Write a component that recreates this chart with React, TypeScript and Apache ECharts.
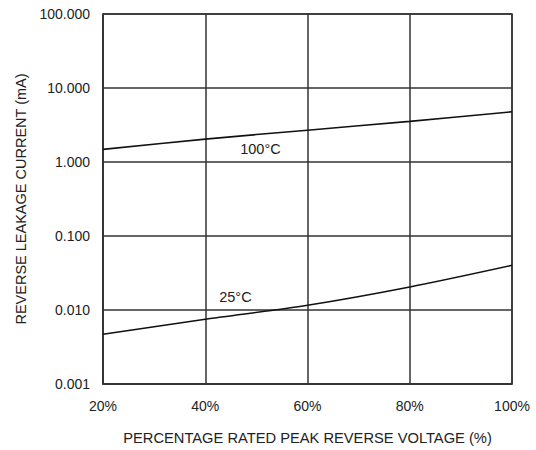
import React, { useEffect, useRef } from "react";
import * as echarts from "echarts";

const voltagePct = [20, 40, 60, 80, 100];
const current100C = [1.48, 2.04, 2.69, 3.54, 4.77];
const current25C = [0.0047, 0.0075, 0.0116, 0.0205, 0.0402];
const label100C = { text: "100°C", x: 50.8, y: 1.49 };
const label25C = { text: "25°C", x: 45.9, y: 0.0151 };

const FONT = "'Liberation Sans', Arial, sans-serif";

export default function App() {
  const ref = useRef<HTMLDivElement>(null);
  useEffect(() => {
    if (!ref.current) return;
    const chart = echarts.init(ref.current, undefined, { renderer: "svg" });
    const lineStyle = { color: "#111", width: 1.6 };
    const mk = (l: { text: string; x: number; y: number }) => ({
      symbol: "circle",
      symbolSize: 0,
      data: [
        {
          coord: [l.x, l.y],
          value: l.text,
          label: {
            show: true,
            formatter: l.text,
            position: "inside",
            color: "#222",
            fontFamily: FONT,
            fontSize: 14.5,
          },
        },
      ],
    });
    chart.setOption({
      animation: false,
      backgroundColor: "#fff",
      grid: { left: 103, right: 24, top: 14, bottom: 60, show: true, borderColor: "#333", borderWidth: 1.5 },
      xAxis: {
        type: "value",
        min: 20,
        max: 100,
        interval: 20,
        name: "PERCENTAGE RATED PEAK REVERSE VOLTAGE (%)",
        nameLocation: "middle",
        nameGap: 46,
        nameTextStyle: { fontFamily: FONT, fontSize: 14.7, color: "#222" },
        axisLine: { show: true, lineStyle: { color: "#333", width: 1.5 } },
        axisTick: { show: false },
        axisLabel: {
          formatter: "{value}%",
          margin: 15,
          fontFamily: FONT,
          fontSize: 14,
          color: "#222",
        },
        splitLine: { show: true, lineStyle: { color: "#333", width: 1.5 } },
      },
      yAxis: {
        type: "log",
        logBase: 10,
        min: 0.001,
        max: 100,
        name: "REVERSE LEAKAGE CURRENT (mA)",
        nameLocation: "middle",
        nameGap: 75,
        nameTextStyle: { fontFamily: FONT, fontSize: 14.5, color: "#222" },
        axisLine: { show: true, lineStyle: { color: "#333", width: 1.5 } },
        axisTick: { show: false },
        minorTick: { show: false },
        axisLabel: {
          formatter: (v: number) => v.toFixed(3),
          margin: 13,
          fontFamily: FONT,
          fontSize: 14,
          color: "#222",
        },
        splitLine: { show: true, lineStyle: { color: "#333", width: 1.5 } },
      },
      series: [
        {
          type: "line",
          name: "100°C",
          data: voltagePct.map((x, i) => [x, current100C[i]]),
          smooth: 0.3,
          showSymbol: false,
          lineStyle,
          markPoint: mk(label100C),
        },
        {
          type: "line",
          name: "25°C",
          data: voltagePct.map((x, i) => [x, current25C[i]]),
          smooth: 0.3,
          showSymbol: false,
          lineStyle,
          markPoint: mk(label25C),
        },
      ],
    });
    return () => chart.dispose();
  }, []);
  return <div ref={ref} style={{ width: 536, height: 450, position: "absolute", left: 0, top: 0 }} />;
}
